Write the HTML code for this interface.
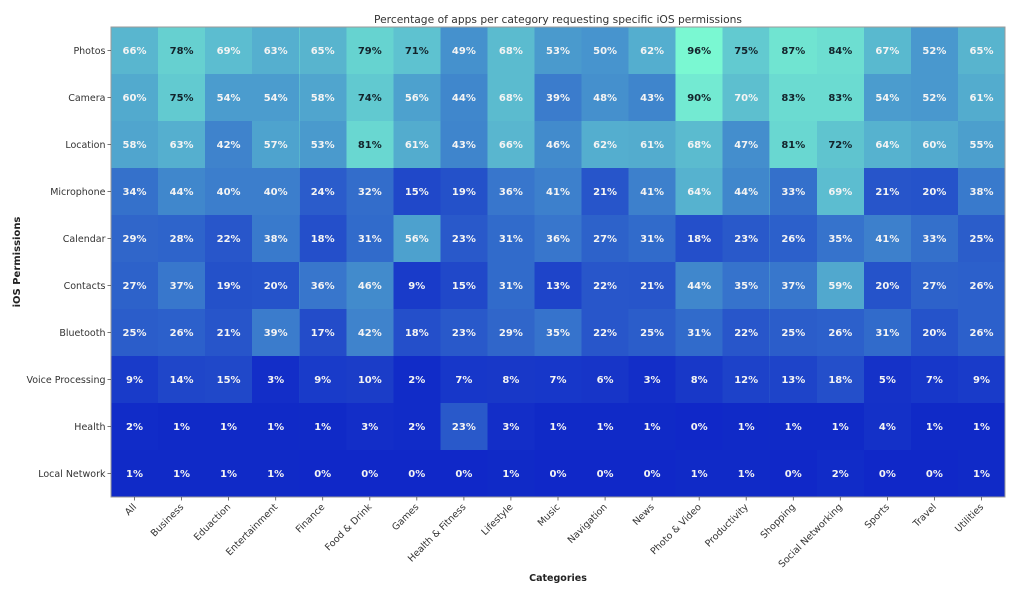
<!DOCTYPE html>
<html><head><meta charset="utf-8"><style>
html,body{margin:0;padding:0;background:#fff;}
svg{display:block;font-family:"DejaVu Sans","Liberation Sans",sans-serif;}
</style></head><body>
<svg width="1024" height="590" viewBox="0 0 1024 590" xmlns="http://www.w3.org/2000/svg">
<rect width="1024" height="590" fill="#fff"/>
<text x="558" y="23" font-size="10.7" fill="#333" text-anchor="middle">Percentage of apps per category requesting specific iOS permissions</text>
<rect x="111" y="27" width="894" height="470" fill="#1028c8"/>
<g fill="#7af8d2" shape-rendering="crispEdges">
<!-- Row 0 Photos -->
<rect x="111" y="27" width="47.1" height="47" fill-opacity=".6875"/>
<rect x="158.05" y="27" width="47.1" height="47" fill-opacity=".8125"/>
<rect x="205.11" y="27" width="47.1" height="47" fill-opacity=".7188"/>
<rect x="252.16" y="27" width="47.1" height="47" fill-opacity=".6563"/>
<rect x="299.21" y="27" width="47.1" height="47" fill-opacity=".6771"/>
<rect x="346.26" y="27" width="47.1" height="47" fill-opacity=".8229"/>
<rect x="393.32" y="27" width="47.1" height="47" fill-opacity=".7396"/>
<rect x="440.37" y="27" width="47.1" height="47" fill-opacity=".5104"/>
<rect x="487.42" y="27" width="47.1" height="47" fill-opacity=".7083"/>
<rect x="534.47" y="27" width="47.1" height="47" fill-opacity=".5521"/>
<rect x="581.53" y="27" width="47.1" height="47" fill-opacity=".5208"/>
<rect x="628.58" y="27" width="47.1" height="47" fill-opacity=".6458"/>
<rect x="675.63" y="27" width="47.1" height="47" fill-opacity="1"/>
<rect x="722.68" y="27" width="47.1" height="47" fill-opacity=".7813"/>
<rect x="769.74" y="27" width="47.1" height="47" fill-opacity=".9063"/>
<rect x="816.79" y="27" width="47.1" height="47" fill-opacity=".875"/>
<rect x="863.84" y="27" width="47.1" height="47" fill-opacity=".6979"/>
<rect x="910.89" y="27" width="47.1" height="47" fill-opacity=".5417"/>
<rect x="957.95" y="27" width="47.05" height="47" fill-opacity=".6771"/>
<!-- Row 1 Camera -->
<rect x="111" y="74" width="47.1" height="47" fill-opacity=".625"/>
<rect x="158.05" y="74" width="47.1" height="47" fill-opacity=".7813"/>
<rect x="205.11" y="74" width="47.1" height="47" fill-opacity=".5625"/>
<rect x="252.16" y="74" width="47.1" height="47" fill-opacity=".5625"/>
<rect x="299.21" y="74" width="47.1" height="47" fill-opacity=".6042"/>
<rect x="346.26" y="74" width="47.1" height="47" fill-opacity=".7708"/>
<rect x="393.32" y="74" width="47.1" height="47" fill-opacity=".5833"/>
<rect x="440.37" y="74" width="47.1" height="47" fill-opacity=".4583"/>
<rect x="487.42" y="74" width="47.1" height="47" fill-opacity=".7083"/>
<rect x="534.47" y="74" width="47.1" height="47" fill-opacity=".4063"/>
<rect x="581.53" y="74" width="47.1" height="47" fill-opacity=".5"/>
<rect x="628.58" y="74" width="47.1" height="47" fill-opacity=".4479"/>
<rect x="675.63" y="74" width="47.1" height="47" fill-opacity=".9375"/>
<rect x="722.68" y="74" width="47.1" height="47" fill-opacity=".7292"/>
<rect x="769.74" y="74" width="47.1" height="47" fill-opacity=".8646"/>
<rect x="816.79" y="74" width="47.1" height="47" fill-opacity=".8646"/>
<rect x="863.84" y="74" width="47.1" height="47" fill-opacity=".5625"/>
<rect x="910.89" y="74" width="47.1" height="47" fill-opacity=".5417"/>
<rect x="957.95" y="74" width="47.05" height="47" fill-opacity=".6354"/>
<!-- Row 2 Location -->
<rect x="111" y="121" width="47.1" height="47" fill-opacity=".6042"/>
<rect x="158.05" y="121" width="47.1" height="47" fill-opacity=".6563"/>
<rect x="205.11" y="121" width="47.1" height="47" fill-opacity=".4375"/>
<rect x="252.16" y="121" width="47.1" height="47" fill-opacity=".5938"/>
<rect x="299.21" y="121" width="47.1" height="47" fill-opacity=".5521"/>
<rect x="346.26" y="121" width="47.1" height="47" fill-opacity=".8438"/>
<rect x="393.32" y="121" width="47.1" height="47" fill-opacity=".6354"/>
<rect x="440.37" y="121" width="47.1" height="47" fill-opacity=".4479"/>
<rect x="487.42" y="121" width="47.1" height="47" fill-opacity=".6875"/>
<rect x="534.47" y="121" width="47.1" height="47" fill-opacity=".4792"/>
<rect x="581.53" y="121" width="47.1" height="47" fill-opacity=".6458"/>
<rect x="628.58" y="121" width="47.1" height="47" fill-opacity=".6354"/>
<rect x="675.63" y="121" width="47.1" height="47" fill-opacity=".7083"/>
<rect x="722.68" y="121" width="47.1" height="47" fill-opacity=".4896"/>
<rect x="769.74" y="121" width="47.1" height="47" fill-opacity=".8438"/>
<rect x="816.79" y="121" width="47.1" height="47" fill-opacity=".75"/>
<rect x="863.84" y="121" width="47.1" height="47" fill-opacity=".6667"/>
<rect x="910.89" y="121" width="47.1" height="47" fill-opacity=".625"/>
<rect x="957.95" y="121" width="47.05" height="47" fill-opacity=".5729"/>
<!-- Row 3 Microphone -->
<rect x="111" y="168" width="47.1" height="47" fill-opacity=".3542"/>
<rect x="158.05" y="168" width="47.1" height="47" fill-opacity=".4583"/>
<rect x="205.11" y="168" width="47.1" height="47" fill-opacity=".4167"/>
<rect x="252.16" y="168" width="47.1" height="47" fill-opacity=".4167"/>
<rect x="299.21" y="168" width="47.1" height="47" fill-opacity=".25"/>
<rect x="346.26" y="168" width="47.1" height="47" fill-opacity=".3333"/>
<rect x="393.32" y="168" width="47.1" height="47" fill-opacity=".1563"/>
<rect x="440.37" y="168" width="47.1" height="47" fill-opacity=".1979"/>
<rect x="487.42" y="168" width="47.1" height="47" fill-opacity=".375"/>
<rect x="534.47" y="168" width="47.1" height="47" fill-opacity=".4271"/>
<rect x="581.53" y="168" width="47.1" height="47" fill-opacity=".2188"/>
<rect x="628.58" y="168" width="47.1" height="47" fill-opacity=".4271"/>
<rect x="675.63" y="168" width="47.1" height="47" fill-opacity=".6667"/>
<rect x="722.68" y="168" width="47.1" height="47" fill-opacity=".4583"/>
<rect x="769.74" y="168" width="47.1" height="47" fill-opacity=".3438"/>
<rect x="816.79" y="168" width="47.1" height="47" fill-opacity=".7188"/>
<rect x="863.84" y="168" width="47.1" height="47" fill-opacity=".2188"/>
<rect x="910.89" y="168" width="47.1" height="47" fill-opacity=".2083"/>
<rect x="957.95" y="168" width="47.05" height="47" fill-opacity=".3958"/>
<!-- Row 4 Calendar -->
<rect x="111" y="215" width="47.1" height="47" fill-opacity=".3021"/>
<rect x="158.05" y="215" width="47.1" height="47" fill-opacity=".2917"/>
<rect x="205.11" y="215" width="47.1" height="47" fill-opacity=".2292"/>
<rect x="252.16" y="215" width="47.1" height="47" fill-opacity=".3958"/>
<rect x="299.21" y="215" width="47.1" height="47" fill-opacity=".1875"/>
<rect x="346.26" y="215" width="47.1" height="47" fill-opacity=".3229"/>
<rect x="393.32" y="215" width="47.1" height="47" fill-opacity=".5833"/>
<rect x="440.37" y="215" width="47.1" height="47" fill-opacity=".2396"/>
<rect x="487.42" y="215" width="47.1" height="47" fill-opacity=".3229"/>
<rect x="534.47" y="215" width="47.1" height="47" fill-opacity=".375"/>
<rect x="581.53" y="215" width="47.1" height="47" fill-opacity=".2813"/>
<rect x="628.58" y="215" width="47.1" height="47" fill-opacity=".3229"/>
<rect x="675.63" y="215" width="47.1" height="47" fill-opacity=".1875"/>
<rect x="722.68" y="215" width="47.1" height="47" fill-opacity=".2396"/>
<rect x="769.74" y="215" width="47.1" height="47" fill-opacity=".2708"/>
<rect x="816.79" y="215" width="47.1" height="47" fill-opacity=".3646"/>
<rect x="863.84" y="215" width="47.1" height="47" fill-opacity=".4271"/>
<rect x="910.89" y="215" width="47.1" height="47" fill-opacity=".3438"/>
<rect x="957.95" y="215" width="47.05" height="47" fill-opacity=".2604"/>
<!-- Row 5 Contacts -->
<rect x="111" y="262" width="47.1" height="47" fill-opacity=".2813"/>
<rect x="158.05" y="262" width="47.1" height="47" fill-opacity=".3854"/>
<rect x="205.11" y="262" width="47.1" height="47" fill-opacity=".1979"/>
<rect x="252.16" y="262" width="47.1" height="47" fill-opacity=".2083"/>
<rect x="299.21" y="262" width="47.1" height="47" fill-opacity=".375"/>
<rect x="346.26" y="262" width="47.1" height="47" fill-opacity=".4792"/>
<rect x="393.32" y="262" width="47.1" height="47" fill-opacity=".0938"/>
<rect x="440.37" y="262" width="47.1" height="47" fill-opacity=".1563"/>
<rect x="487.42" y="262" width="47.1" height="47" fill-opacity=".3229"/>
<rect x="534.47" y="262" width="47.1" height="47" fill-opacity=".1354"/>
<rect x="581.53" y="262" width="47.1" height="47" fill-opacity=".2292"/>
<rect x="628.58" y="262" width="47.1" height="47" fill-opacity=".2188"/>
<rect x="675.63" y="262" width="47.1" height="47" fill-opacity=".4583"/>
<rect x="722.68" y="262" width="47.1" height="47" fill-opacity=".3646"/>
<rect x="769.74" y="262" width="47.1" height="47" fill-opacity=".3854"/>
<rect x="816.79" y="262" width="47.1" height="47" fill-opacity=".6146"/>
<rect x="863.84" y="262" width="47.1" height="47" fill-opacity=".2083"/>
<rect x="910.89" y="262" width="47.1" height="47" fill-opacity=".2813"/>
<rect x="957.95" y="262" width="47.05" height="47" fill-opacity=".2708"/>
<!-- Row 6 Bluetooth -->
<rect x="111" y="309" width="47.1" height="47" fill-opacity=".2604"/>
<rect x="158.05" y="309" width="47.1" height="47" fill-opacity=".2708"/>
<rect x="205.11" y="309" width="47.1" height="47" fill-opacity=".2188"/>
<rect x="252.16" y="309" width="47.1" height="47" fill-opacity=".4063"/>
<rect x="299.21" y="309" width="47.1" height="47" fill-opacity=".1771"/>
<rect x="346.26" y="309" width="47.1" height="47" fill-opacity=".4375"/>
<rect x="393.32" y="309" width="47.1" height="47" fill-opacity=".1875"/>
<rect x="440.37" y="309" width="47.1" height="47" fill-opacity=".2396"/>
<rect x="487.42" y="309" width="47.1" height="47" fill-opacity=".3021"/>
<rect x="534.47" y="309" width="47.1" height="47" fill-opacity=".3646"/>
<rect x="581.53" y="309" width="47.1" height="47" fill-opacity=".2292"/>
<rect x="628.58" y="309" width="47.1" height="47" fill-opacity=".2604"/>
<rect x="675.63" y="309" width="47.1" height="47" fill-opacity=".3229"/>
<rect x="722.68" y="309" width="47.1" height="47" fill-opacity=".2292"/>
<rect x="769.74" y="309" width="47.1" height="47" fill-opacity=".2604"/>
<rect x="816.79" y="309" width="47.1" height="47" fill-opacity=".2708"/>
<rect x="863.84" y="309" width="47.1" height="47" fill-opacity=".3229"/>
<rect x="910.89" y="309" width="47.1" height="47" fill-opacity=".2083"/>
<rect x="957.95" y="309" width="47.05" height="47" fill-opacity=".2708"/>
<!-- Row 7 Voice Processing -->
<rect x="111" y="356" width="47.1" height="47" fill-opacity=".0938"/>
<rect x="158.05" y="356" width="47.1" height="47" fill-opacity=".1458"/>
<rect x="205.11" y="356" width="47.1" height="47" fill-opacity=".1563"/>
<rect x="252.16" y="356" width="47.1" height="47" fill-opacity=".0313"/>
<rect x="299.21" y="356" width="47.1" height="47" fill-opacity=".0938"/>
<rect x="346.26" y="356" width="47.1" height="47" fill-opacity=".1042"/>
<rect x="393.32" y="356" width="47.1" height="47" fill-opacity=".0208"/>
<rect x="440.37" y="356" width="47.1" height="47" fill-opacity=".0729"/>
<rect x="487.42" y="356" width="47.1" height="47" fill-opacity=".0833"/>
<rect x="534.47" y="356" width="47.1" height="47" fill-opacity=".0729"/>
<rect x="581.53" y="356" width="47.1" height="47" fill-opacity=".0625"/>
<rect x="628.58" y="356" width="47.1" height="47" fill-opacity=".0313"/>
<rect x="675.63" y="356" width="47.1" height="47" fill-opacity=".0833"/>
<rect x="722.68" y="356" width="47.1" height="47" fill-opacity=".125"/>
<rect x="769.74" y="356" width="47.1" height="47" fill-opacity=".1354"/>
<rect x="816.79" y="356" width="47.1" height="47" fill-opacity=".1875"/>
<rect x="863.84" y="356" width="47.1" height="47" fill-opacity=".0521"/>
<rect x="910.89" y="356" width="47.1" height="47" fill-opacity=".0729"/>
<rect x="957.95" y="356" width="47.05" height="47" fill-opacity=".0938"/>
<!-- Row 8 Health -->
<rect x="111" y="403" width="47.1" height="47" fill-opacity=".0208"/>
<rect x="158.05" y="403" width="47.1" height="47" fill-opacity=".0104"/>
<rect x="205.11" y="403" width="47.1" height="47" fill-opacity=".0104"/>
<rect x="252.16" y="403" width="47.1" height="47" fill-opacity=".0104"/>
<rect x="299.21" y="403" width="47.1" height="47" fill-opacity=".0104"/>
<rect x="346.26" y="403" width="47.1" height="47" fill-opacity=".0313"/>
<rect x="393.32" y="403" width="47.1" height="47" fill-opacity=".0208"/>
<rect x="440.37" y="403" width="47.1" height="47" fill-opacity=".2396"/>
<rect x="487.42" y="403" width="47.1" height="47" fill-opacity=".0313"/>
<rect x="534.47" y="403" width="47.1" height="47" fill-opacity=".0104"/>
<rect x="581.53" y="403" width="47.1" height="47" fill-opacity=".0104"/>
<rect x="628.58" y="403" width="47.1" height="47" fill-opacity=".0104"/>
<rect x="722.68" y="403" width="47.1" height="47" fill-opacity=".0104"/>
<rect x="769.74" y="403" width="47.1" height="47" fill-opacity=".0104"/>
<rect x="816.79" y="403" width="47.1" height="47" fill-opacity=".0104"/>
<rect x="863.84" y="403" width="47.1" height="47" fill-opacity=".0417"/>
<rect x="910.89" y="403" width="47.1" height="47" fill-opacity=".0104"/>
<rect x="957.95" y="403" width="47.05" height="47" fill-opacity=".0104"/>
<!-- Row 9 Local Network -->
<rect x="111" y="450" width="47.1" height="47" fill-opacity=".0104"/>
<rect x="158.05" y="450" width="47.1" height="47" fill-opacity=".0104"/>
<rect x="205.11" y="450" width="47.1" height="47" fill-opacity=".0104"/>
<rect x="252.16" y="450" width="47.1" height="47" fill-opacity=".0104"/>
<rect x="487.42" y="450" width="47.1" height="47" fill-opacity=".0104"/>
<rect x="675.63" y="450" width="47.1" height="47" fill-opacity=".0104"/>
<rect x="722.68" y="450" width="47.1" height="47" fill-opacity=".0104"/>
<rect x="816.79" y="450" width="47.1" height="47" fill-opacity=".0208"/>
<rect x="957.95" y="450" width="47.05" height="47" fill-opacity=".0104"/>
</g>
<rect x="111" y="27" width="894" height="470" fill="none" stroke="#9a9a9a" stroke-width="1"/>

<!-- annotations -->
<g font-size="10" font-weight="bold" fill="#f4f4f4" text-anchor="middle">
<text x="134.5" y="54.1">66%</text><text x="181.6" y="54.1" fill="#13232b">78%</text><text x="228.6" y="54.1">69%</text><text x="275.7" y="54.1">63%</text><text x="322.7" y="54.1">65%</text><text x="369.8" y="54.1" fill="#13232b">79%</text><text x="416.8" y="54.1" fill="#13232b">71%</text><text x="463.9" y="54.1">49%</text><text x="510.9" y="54.1">68%</text><text x="558" y="54.1">53%</text><text x="605.1" y="54.1">50%</text><text x="652.1" y="54.1">62%</text><text x="699.2" y="54.1" fill="#13232b">96%</text><text x="746.2" y="54.1" fill="#13232b">75%</text><text x="793.3" y="54.1" fill="#13232b">87%</text><text x="840.3" y="54.1" fill="#13232b">84%</text><text x="887.4" y="54.1">67%</text><text x="934.4" y="54.1">52%</text><text x="981.5" y="54.1">65%</text>

<text x="134.5" y="101.1">60%</text><text x="181.6" y="101.1" fill="#13232b">75%</text><text x="228.6" y="101.1">54%</text><text x="275.7" y="101.1">54%</text><text x="322.7" y="101.1">58%</text><text x="369.8" y="101.1" fill="#13232b">74%</text><text x="416.8" y="101.1">56%</text><text x="463.9" y="101.1">44%</text><text x="510.9" y="101.1">68%</text><text x="558" y="101.1">39%</text><text x="605.1" y="101.1">48%</text><text x="652.1" y="101.1">43%</text><text x="699.2" y="101.1" fill="#13232b">90%</text><text x="746.2" y="101.1">70%</text><text x="793.3" y="101.1" fill="#13232b">83%</text><text x="840.3" y="101.1" fill="#13232b">83%</text><text x="887.4" y="101.1">54%</text><text x="934.4" y="101.1">52%</text><text x="981.5" y="101.1">61%</text>

<text x="134.5" y="148.1">58%</text><text x="181.6" y="148.1">63%</text><text x="228.6" y="148.1">42%</text><text x="275.7" y="148.1">57%</text><text x="322.7" y="148.1">53%</text><text x="369.8" y="148.1" fill="#13232b">81%</text><text x="416.8" y="148.1">61%</text><text x="463.9" y="148.1">43%</text><text x="510.9" y="148.1">66%</text><text x="558" y="148.1">46%</text><text x="605.1" y="148.1">62%</text><text x="652.1" y="148.1">61%</text><text x="699.2" y="148.1">68%</text><text x="746.2" y="148.1">47%</text><text x="793.3" y="148.1" fill="#13232b">81%</text><text x="840.3" y="148.1" fill="#13232b">72%</text><text x="887.4" y="148.1">64%</text><text x="934.4" y="148.1">60%</text><text x="981.5" y="148.1">55%</text>

<text x="134.5" y="195.1">34%</text><text x="181.6" y="195.1">44%</text><text x="228.6" y="195.1">40%</text><text x="275.7" y="195.1">40%</text><text x="322.7" y="195.1">24%</text><text x="369.8" y="195.1">32%</text><text x="416.8" y="195.1">15%</text><text x="463.9" y="195.1">19%</text><text x="510.9" y="195.1">36%</text><text x="558" y="195.1">41%</text><text x="605.1" y="195.1">21%</text><text x="652.1" y="195.1">41%</text><text x="699.2" y="195.1">64%</text><text x="746.2" y="195.1">44%</text><text x="793.3" y="195.1">33%</text><text x="840.3" y="195.1">69%</text><text x="887.4" y="195.1">21%</text><text x="934.4" y="195.1">20%</text><text x="981.5" y="195.1">38%</text>

<text x="134.5" y="242.1">29%</text><text x="181.6" y="242.1">28%</text><text x="228.6" y="242.1">22%</text><text x="275.7" y="242.1">38%</text><text x="322.7" y="242.1">18%</text><text x="369.8" y="242.1">31%</text><text x="416.8" y="242.1">56%</text><text x="463.9" y="242.1">23%</text><text x="510.9" y="242.1">31%</text><text x="558" y="242.1">36%</text><text x="605.1" y="242.1">27%</text><text x="652.1" y="242.1">31%</text><text x="699.2" y="242.1">18%</text><text x="746.2" y="242.1">23%</text><text x="793.3" y="242.1">26%</text><text x="840.3" y="242.1">35%</text><text x="887.4" y="242.1">41%</text><text x="934.4" y="242.1">33%</text><text x="981.5" y="242.1">25%</text>

<text x="134.5" y="289.1">27%</text><text x="181.6" y="289.1">37%</text><text x="228.6" y="289.1">19%</text><text x="275.7" y="289.1">20%</text><text x="322.7" y="289.1">36%</text><text x="369.8" y="289.1">46%</text><text x="416.8" y="289.1">9%</text><text x="463.9" y="289.1">15%</text><text x="510.9" y="289.1">31%</text><text x="558" y="289.1">13%</text><text x="605.1" y="289.1">22%</text><text x="652.1" y="289.1">21%</text><text x="699.2" y="289.1">44%</text><text x="746.2" y="289.1">35%</text><text x="793.3" y="289.1">37%</text><text x="840.3" y="289.1">59%</text><text x="887.4" y="289.1">20%</text><text x="934.4" y="289.1">27%</text><text x="981.5" y="289.1">26%</text>

<text x="134.5" y="336.1">25%</text><text x="181.6" y="336.1">26%</text><text x="228.6" y="336.1">21%</text><text x="275.7" y="336.1">39%</text><text x="322.7" y="336.1">17%</text><text x="369.8" y="336.1">42%</text><text x="416.8" y="336.1">18%</text><text x="463.9" y="336.1">23%</text><text x="510.9" y="336.1">29%</text><text x="558" y="336.1">35%</text><text x="605.1" y="336.1">22%</text><text x="652.1" y="336.1">25%</text><text x="699.2" y="336.1">31%</text><text x="746.2" y="336.1">22%</text><text x="793.3" y="336.1">25%</text><text x="840.3" y="336.1">26%</text><text x="887.4" y="336.1">31%</text><text x="934.4" y="336.1">20%</text><text x="981.5" y="336.1">26%</text>

<text x="134.5" y="383.1">9%</text><text x="181.6" y="383.1">14%</text><text x="228.6" y="383.1">15%</text><text x="275.7" y="383.1">3%</text><text x="322.7" y="383.1">9%</text><text x="369.8" y="383.1">10%</text><text x="416.8" y="383.1">2%</text><text x="463.9" y="383.1">7%</text><text x="510.9" y="383.1">8%</text><text x="558" y="383.1">7%</text><text x="605.1" y="383.1">6%</text><text x="652.1" y="383.1">3%</text><text x="699.2" y="383.1">8%</text><text x="746.2" y="383.1">12%</text><text x="793.3" y="383.1">13%</text><text x="840.3" y="383.1">18%</text><text x="887.4" y="383.1">5%</text><text x="934.4" y="383.1">7%</text><text x="981.5" y="383.1">9%</text>

<text x="134.5" y="430.1">2%</text><text x="181.6" y="430.1">1%</text><text x="228.6" y="430.1">1%</text><text x="275.7" y="430.1">1%</text><text x="322.7" y="430.1">1%</text><text x="369.8" y="430.1">3%</text><text x="416.8" y="430.1">2%</text><text x="463.9" y="430.1">23%</text><text x="510.9" y="430.1">3%</text><text x="558" y="430.1">1%</text><text x="605.1" y="430.1">1%</text><text x="652.1" y="430.1">1%</text><text x="699.2" y="430.1">0%</text><text x="746.2" y="430.1">1%</text><text x="793.3" y="430.1">1%</text><text x="840.3" y="430.1">1%</text><text x="887.4" y="430.1">4%</text><text x="934.4" y="430.1">1%</text><text x="981.5" y="430.1">1%</text>

<text x="134.5" y="477.1">1%</text><text x="181.6" y="477.1">1%</text><text x="228.6" y="477.1">1%</text><text x="275.7" y="477.1">1%</text><text x="322.7" y="477.1">0%</text><text x="369.8" y="477.1">0%</text><text x="416.8" y="477.1">0%</text><text x="463.9" y="477.1">0%</text><text x="510.9" y="477.1">1%</text><text x="558" y="477.1">0%</text><text x="605.1" y="477.1">0%</text><text x="652.1" y="477.1">0%</text><text x="699.2" y="477.1">1%</text><text x="746.2" y="477.1">1%</text><text x="793.3" y="477.1">0%</text><text x="840.3" y="477.1">2%</text><text x="887.4" y="477.1">0%</text><text x="934.4" y="477.1">0%</text><text x="981.5" y="477.1">1%</text>
</g>

<!-- y ticks -->
<g stroke="#555" stroke-width="0.8">
<line x1="107.5" y1="50.5" x2="111" y2="50.5"/><line x1="107.5" y1="97.5" x2="111" y2="97.5"/><line x1="107.5" y1="144.5" x2="111" y2="144.5"/><line x1="107.5" y1="191.5" x2="111" y2="191.5"/><line x1="107.5" y1="238.5" x2="111" y2="238.5"/><line x1="107.5" y1="285.5" x2="111" y2="285.5"/><line x1="107.5" y1="332.5" x2="111" y2="332.5"/><line x1="107.5" y1="379.5" x2="111" y2="379.5"/><line x1="107.5" y1="426.5" x2="111" y2="426.5"/><line x1="107.5" y1="473.5" x2="111" y2="473.5"/>
</g>
<g font-size="9.5" fill="#333" text-anchor="end">
<text x="105.5" y="54">Photos</text>
<text x="105.5" y="101">Camera</text>
<text x="105.5" y="148">Location</text>
<text x="105.5" y="195">Microphone</text>
<text x="105.5" y="242">Calendar</text>
<text x="105.5" y="289">Contacts</text>
<text x="105.5" y="336">Bluetooth</text>
<text x="105.5" y="383">Voice Processing</text>
<text x="105.5" y="430">Health</text>
<text x="105.5" y="477">Local Network</text>
</g>

<!-- x ticks -->
<g stroke="#555" stroke-width="0.8">
<line x1="134.5" y1="497" x2="134.5" y2="500.5"/><line x1="181.6" y1="497" x2="181.6" y2="500.5"/><line x1="228.6" y1="497" x2="228.6" y2="500.5"/><line x1="275.7" y1="497" x2="275.7" y2="500.5"/><line x1="322.7" y1="497" x2="322.7" y2="500.5"/><line x1="369.8" y1="497" x2="369.8" y2="500.5"/><line x1="416.8" y1="497" x2="416.8" y2="500.5"/><line x1="463.9" y1="497" x2="463.9" y2="500.5"/><line x1="510.9" y1="497" x2="510.9" y2="500.5"/><line x1="558" y1="497" x2="558" y2="500.5"/><line x1="605.1" y1="497" x2="605.1" y2="500.5"/><line x1="652.1" y1="497" x2="652.1" y2="500.5"/><line x1="699.2" y1="497" x2="699.2" y2="500.5"/><line x1="746.2" y1="497" x2="746.2" y2="500.5"/><line x1="793.3" y1="497" x2="793.3" y2="500.5"/><line x1="840.3" y1="497" x2="840.3" y2="500.5"/><line x1="887.4" y1="497" x2="887.4" y2="500.5"/><line x1="934.4" y1="497" x2="934.4" y2="500.5"/><line x1="981.5" y1="497" x2="981.5" y2="500.5"/>
</g>
<g font-size="9.5" fill="#333" text-anchor="end">
<text transform="translate(137,507.5) rotate(-45)">All</text>
<text transform="translate(184.1,507.5) rotate(-45)">Business</text>
<text transform="translate(231.1,507.5) rotate(-45)">Eduaction</text>
<text transform="translate(278.2,507.5) rotate(-45)">Entertainment</text>
<text transform="translate(325.2,507.5) rotate(-45)">Finance</text>
<text transform="translate(372.3,507.5) rotate(-45)">Food &amp; Drink</text>
<text transform="translate(419.3,507.5) rotate(-45)">Games</text>
<text transform="translate(466.4,507.5) rotate(-45)">Health &amp; Fitness</text>
<text transform="translate(513.4,507.5) rotate(-45)">Lifestyle</text>
<text transform="translate(560.5,507.5) rotate(-45)">Music</text>
<text transform="translate(607.6,507.5) rotate(-45)">Navigation</text>
<text transform="translate(654.6,507.5) rotate(-45)">News</text>
<text transform="translate(701.7,507.5) rotate(-45)">Photo &amp; Video</text>
<text transform="translate(748.7,507.5) rotate(-45)">Productivity</text>
<text transform="translate(795.8,507.5) rotate(-45)">Shopping</text>
<text transform="translate(842.8,507.5) rotate(-45)">Social Networking</text>
<text transform="translate(889.9,507.5) rotate(-45)">Sports</text>
<text transform="translate(936.9,507.5) rotate(-45)">Travel</text>
<text transform="translate(984,507.5) rotate(-45)">Utilities</text>
</g>

<text x="558" y="581" font-size="9.5" font-weight="bold" fill="#222" text-anchor="middle">Categories</text>
<text transform="translate(20,262) rotate(-90)" font-size="10" font-weight="bold" fill="#222" text-anchor="middle">iOS Permissions</text>
</svg>
</body></html>
